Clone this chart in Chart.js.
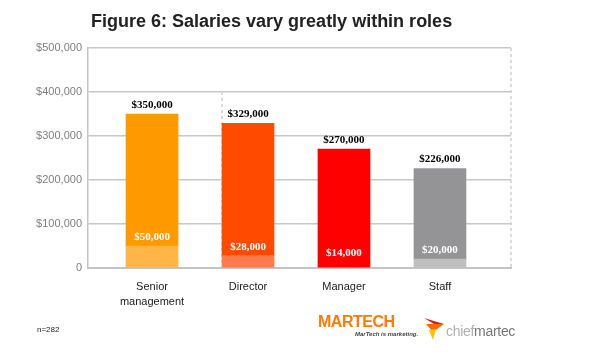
<!DOCTYPE html>
<html>
<head>
<meta charset="utf-8">
<script src="https://cdn.jsdelivr.net/npm/chart.js@4/dist/chart.umd.min.js"></script>
<style>
  body { margin: 0; background: #fff; }
  #wrap { position: relative; width: 593px; height: 354px; overflow: hidden; font-family: "Liberation Sans", Arial, sans-serif; }
  #chart { position: absolute; left: 0; top: 0; }
  #title { position: absolute; left: 91px; top: 11px; font-size: 18px; font-weight: bold; color: #222; white-space: nowrap; }
  #n { position: absolute; left: 37px; top: 325px; font-size: 8px; color: #222; }
  #martech { position: absolute; left: 318px; top: 314px; }
  #martech .big { font-size: 16px; font-weight: bold; color: #ff7a00; letter-spacing: -0.5px; line-height: 16px; }
  #martech .small { position: absolute; left: 37px; top: 17px; font-size: 6px; font-style: italic; font-weight: bold; color: #444; white-space: nowrap; }
  #chief { position: absolute; left: 424px; top: 318px; }
  #chief .txt { position: absolute; left: 22px; top: 5px; font-size: 14px; white-space: nowrap; letter-spacing: -0.3px; }
</style>
</head>
<body>
<div id="wrap">
  <canvas id="chart" width="593" height="354"></canvas>
  <div id="title">Figure 6: Salaries vary greatly within roles</div>
  <div id="n">n=282</div>
  <div id="martech">
    <div class="big">MARTECH</div>
    <div class="small">MarTech is marketing.</div>
  </div>
  <div id="chief">
    <svg width="24" height="26" viewBox="0 0 24 26">
      <polygon points="0,0 20,6 10,6" fill="#d42020"/>
      <polygon points="2,6 20,6 9,14" fill="#ff6a00"/>
      <polygon points="5,12 12,11 9,22" fill="#ffc000"/>
    </svg>
    <div class="txt"><span style="color:#b0b0b0">chief</span><span style="color:#777">martec</span></div>
  </div>
</div>

<script>
// ------------------- DATA -------------------
const roles = [["Senior", "management"], "Director", "Manager", "Staff"];
const minSalary = [50000, 28000, 14000, 20000];
const maxSalary = [350000, 329000, 270000, 226000];
const yTicks = [0, 100000, 200000, 300000, 400000, 500000];

const darkColors = ["#ff9900", "#ff4a00", "#ff0000", "#949497"];
const lightColors = ["#ffb646", "#ff7a4c", "#ff0000", "#bfbfbf"];

const money = v => "$" + v.toLocaleString("en-US");

// dashed lines: right border + the one left of Director
const dashLines = {
  id: "dashLines",
  beforeDatasetsDraw(chart) {
    const { ctx, chartArea, scales } = chart;
    const director = chart.getDatasetMeta(1).data[1];
    ctx.save();
    ctx.setLineDash([3, 3]);
    ctx.strokeStyle = "#d0d0d0";
    ctx.lineWidth = 1.5;

    ctx.beginPath();
    ctx.moveTo(chartArea.right, chartArea.top);
    ctx.lineTo(chartArea.right, chartArea.bottom);
    ctx.stroke();

    const x = director.x - director.width / 2;
    ctx.beginPath();
    ctx.moveTo(x, scales.y.getPixelForValue(400000));
    ctx.lineTo(x, chartArea.bottom);
    ctx.stroke();
    ctx.restore();
  }
};

// value labels
const valueLabels = {
  id: "valueLabels",
  afterDraw(chart) {
    const { ctx } = chart;
    ctx.save();
    ctx.font = "bold 11px 'Liberation Serif', 'Times New Roman', serif";
    ctx.textAlign = "center";
    ctx.textBaseline = "middle";

    chart.getDatasetMeta(1).data.forEach((bar, i) => {
      ctx.fillStyle = "#000";
      ctx.fillText(money(maxSalary[i]), bar.x, bar.y - 9);
    });
    chart.getDatasetMeta(0).data.forEach((bar, i) => {
      ctx.fillStyle = "#fff";
      ctx.fillText(money(minSalary[i]), bar.x, bar.y - 9);
    });
    ctx.restore();
  }
};

new Chart(document.getElementById("chart"), {
  type: "bar",
  data: {
    datasets: [
      {
        label: "Min",
        data: minSalary.map((v, i) => ({ x: i, y: [0, v] })),
        backgroundColor: lightColors,
        grouped: false,
        barThickness: 52
      },
      {
        label: "Max",
        data: maxSalary.map((v, i) => ({ x: i, y: [minSalary[i], v] })),
        backgroundColor: darkColors,
        grouped: false,
        barThickness: 52
      }
    ]
  },
  options: {
    responsive: false,
    animation: false,
    layout: { padding: { top: 48, right: 82, left: 0, bottom: 0 } },
    plugins: {
      legend: { display: false },
      tooltip: { enabled: false }
    },
    scales: {
      x: {
        type: "linear",
        offset: false,
        min: -0.667,
        max: 3.74,
        afterBuildTicks: scale => {
          scale.ticks = roles.map((_, i) => ({ value: i }));
        },
        afterFit: scale => { scale.height = 86; },
        grid: { display: false, drawTicks: false, offset: false },
        border: { display: true, color: "#c4c4c4", width: 2 },
        ticks: {
          autoSkip: false,
          maxRotation: 0,
          padding: 12,
          color: "#222",
          font: { family: "'Liberation Sans', Arial, sans-serif", size: 11, lineHeight: 1.35 },
          callback: v => roles[v]
        }
      },
      y: {
        min: 0,
        max: 500000,
        z: 1,
        afterBuildTicks: scale => {
          scale.ticks = yTicks.map(v => ({ value: v }));
        },
        afterFit: scale => { scale.width = 88; },
        grid: { color: "#c8c8c8", lineWidth: 1.5, drawTicks: false },
        border: { display: true, color: "#c4c4c4", width: 1.5 },
        ticks: {
          padding: 6,
          color: "#808080",
          font: { family: "'Liberation Sans', Arial, sans-serif", size: 11 },
          callback: v => v === 0 ? "0" : money(v)
        }
      }
    }
  },
  plugins: [dashLines, valueLabels]
});
</script>
</body>
</html>
